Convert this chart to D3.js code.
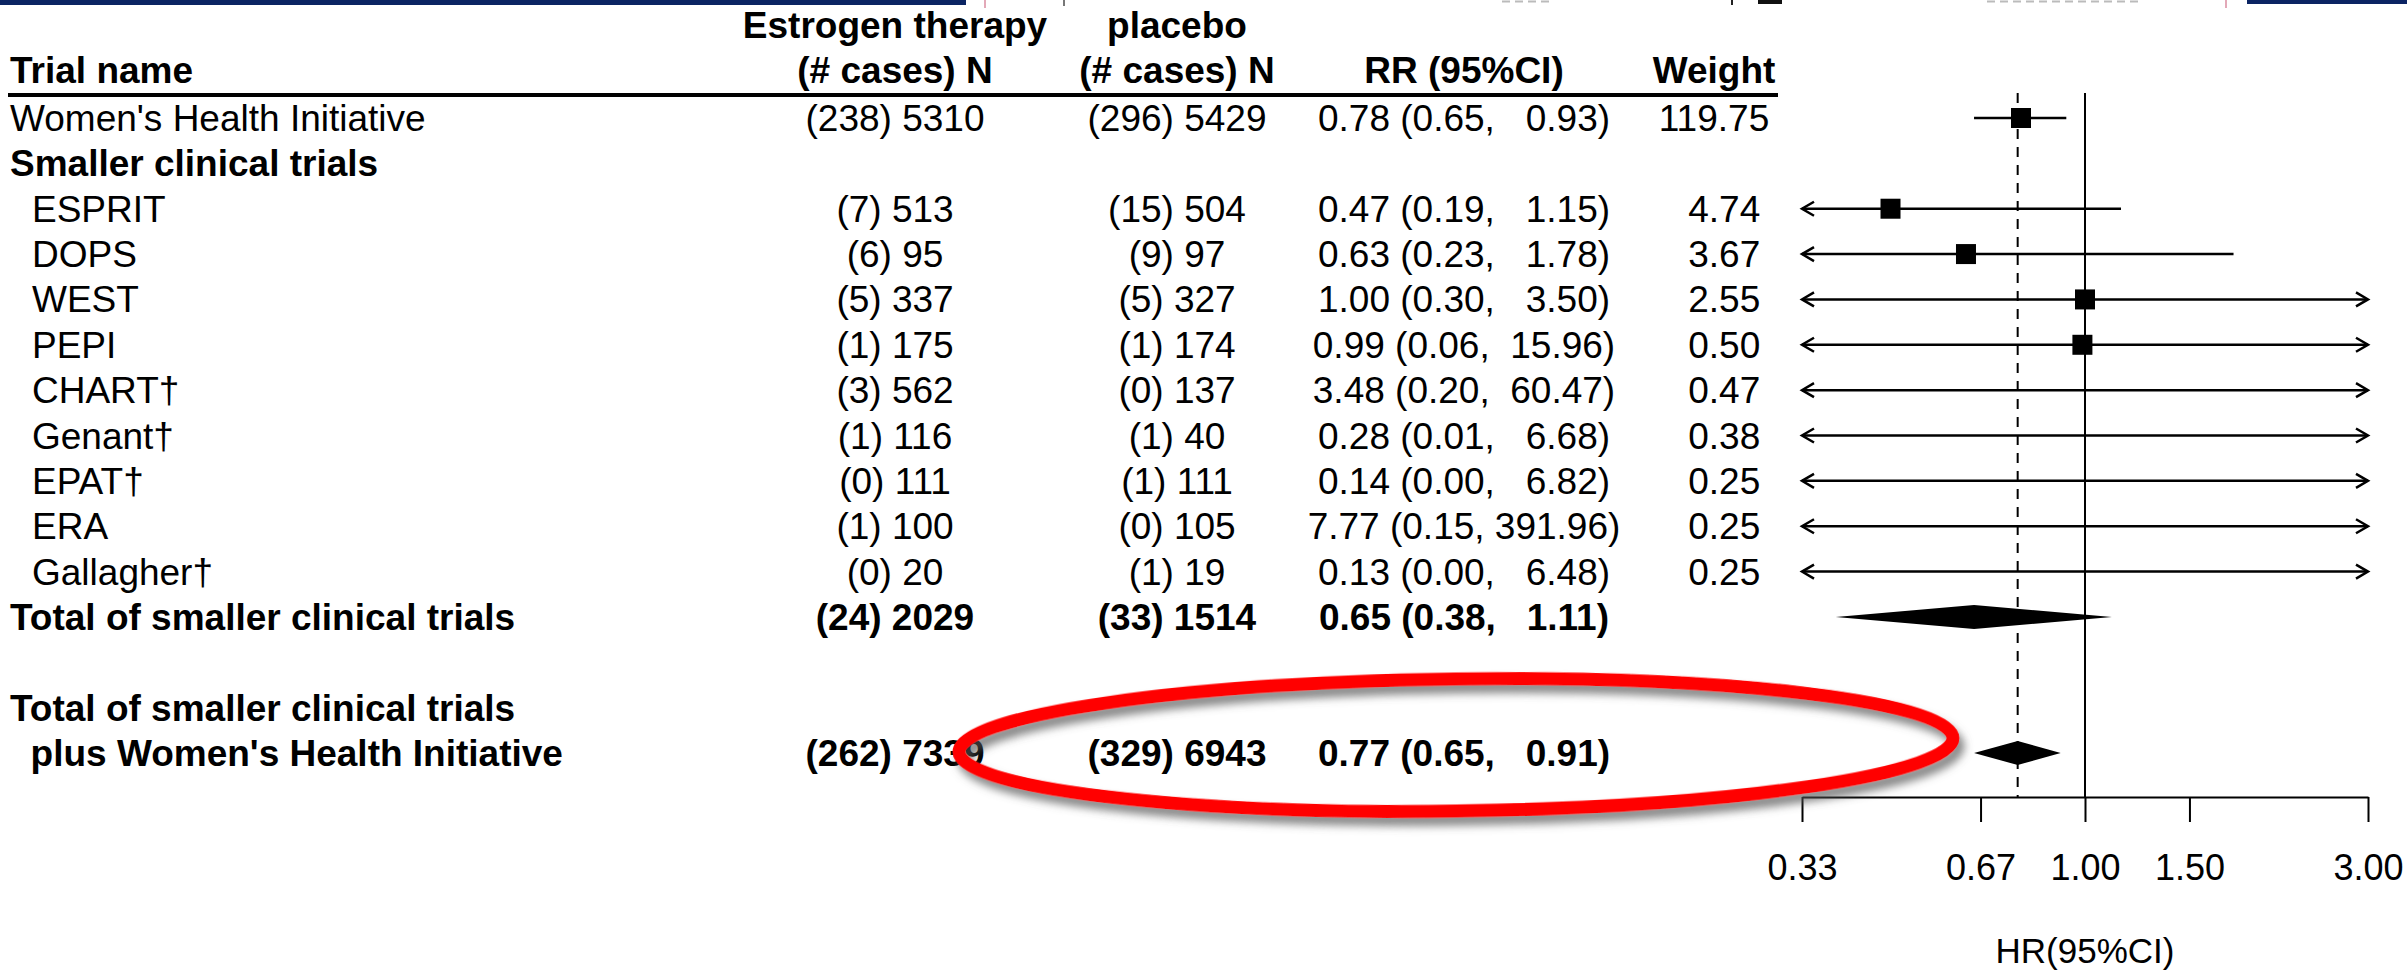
<!DOCTYPE html>
<html>
<head>
<meta charset="utf-8">
<script src="https://cdn.jsdelivr.net/npm/d3@7"></script>
<style>
  body { margin: 0; background: #fff; }
  svg text { font-family: "Liberation Sans", Arial, sans-serif; fill: #000; white-space: pre; }
</style>
</head>
<body>
<svg width="2407" height="973"></svg>
<script>
// single studies (WHI first, then the smaller trials)
const studyNames = ["Women's Health Initiative", "ESPRIT", "DOPS", "WEST", "PEPI", "CHART†", "Genant†", "EPAT†", "ERA", "Gallagher†"];
const estCases = [238, 7, 6, 5, 1, 3, 1, 0, 1, 0];
const estN = [5310, 513, 95, 337, 175, 562, 116, 111, 100, 20];
const plaCases = [296, 15, 9, 5, 1, 0, 1, 1, 0, 1];
const plaN = [5429, 504, 97, 327, 174, 137, 40, 111, 105, 19];
const rr = [0.78, 0.47, 0.63, 1.00, 0.99, 3.48, 0.28, 0.14, 7.77, 0.13];
const rrLow = [0.65, 0.19, 0.23, 0.30, 0.06, 0.20, 0.01, 0.00, 0.15, 0.00];
const rrHigh = [0.93, 1.15, 1.78, 3.50, 15.96, 60.47, 6.68, 6.82, 391.96, 6.48];
const weights = [119.75, 4.74, 3.67, 2.55, 0.50, 0.47, 0.38, 0.25, 0.25, 0.25];

// pooled estimates
const poolNames = [["Total of smaller clinical trials"], ["Total of smaller clinical trials", "  plus Women's Health Initiative"]];
const poolEstCases = [24, 262];
const poolEstN = [2029, 7339];
const poolPlaCases = [33, 329];
const poolPlaN = [1514, 6943];
const poolRR = [0.65, 0.77];
const poolLow = [0.38, 0.65];
const poolHigh = [1.11, 0.91];

// axis
const tickValues = [1 / 3, 2 / 3, 1, 1.5, 3];
const tickLabels = ["0.33", "0.67", "1.00", "1.50", "3.00"];

const svg = d3.select("svg");
const FS = 37;

// top strip left over from the slide above
const strip = svg.append("g");
strip.append("rect").attr("x", 0).attr("y", 0).attr("width", 966).attr("height", 5).attr("fill", "#0b2463");
strip.append("rect").attr("x", 2247).attr("y", 0).attr("width", 160).attr("height", 4).attr("fill", "#0b2463");
[[985, "#e3a9b8", 8], [1064, "#777", 6], [1732, "#222", 5], [2226, "#e3a9b8", 8]].forEach(([x, c, h]) => {
    strip.append("line").attr("x1", x).attr("x2", x).attr("y1", 0).attr("y2", h).attr("stroke", c).attr("stroke-width", 2);
});
strip.append("rect").attr("x", 1758).attr("y", 0).attr("width", 24).attr("height", 4).attr("fill", "#111");
[[1502, 1549], [1987, 2141]].forEach(([a, b]) => {
    strip.append("line").attr("x1", a).attr("x2", b).attr("y1", 1.5).attr("y2", 1.5).attr("stroke", "#bbb").attr("stroke-width", 2).attr("stroke-dasharray", "8,5");
});

// rows
const rowKeys = ["s0", "group", "s1", "s2", "s3", "s4", "s5", "s6", "s7", "s8", "s9", "p0", "gap", "p1a", "p1"];
const y = d3.scalePoint().domain(rowKeys).range([118, 753]);
const base = (k) => y(k) + 13;

const col = { name: 10, indent: 32, est: 895, pla: 1177, rr: 1464, w: 1714 };
const f2 = d3.format(".2f");
const pad = (s, n) => s.padStart(n, " ");
const rrText = (a, b, c) => `${f2(a)} (${f2(b)}, ${pad(f2(c), 6)})`;

// header
const head = svg.append("g").attr("font-weight", "bold").attr("font-size", FS);
head.append("text").attr("x", col.name).attr("y", 83).text("Trial name");
head.append("text").attr("x", col.est).attr("y", 38).attr("text-anchor", "middle").text("Estrogen therapy");
head.append("text").attr("x", col.est).attr("y", 83).attr("text-anchor", "middle").text("(# cases) N");
head.append("text").attr("x", col.pla).attr("y", 38).attr("text-anchor", "middle").text("placebo");
head.append("text").attr("x", col.pla).attr("y", 83).attr("text-anchor", "middle").text("(# cases) N");
head.append("text").attr("x", col.rr).attr("y", 83).attr("text-anchor", "middle").text("RR (95%CI)");
head.append("text").attr("x", col.w).attr("y", 83).attr("text-anchor", "middle").text("Weight");
svg.append("line").attr("x1", 8).attr("x2", 1778).attr("y1", 95).attr("y2", 95)
    .attr("stroke", "#000").attr("stroke-width", 4);

// study text
const studyRows = svg.append("g").attr("font-size", FS)
    .selectAll("g").data(studyNames).join("g")
    .attr("transform", (d, i) => `translate(0,${base("s" + i)})`);
studyRows.append("text").attr("x", (d, i) => i === 0 ? col.name : col.indent).text(d => d);
studyRows.append("text").attr("x", col.est).attr("text-anchor", "middle")
    .text((d, i) => `(${estCases[i]}) ${estN[i]}`);
studyRows.append("text").attr("x", col.pla).attr("text-anchor", "middle")
    .text((d, i) => `(${plaCases[i]}) ${plaN[i]}`);
studyRows.append("text").attr("x", col.rr).attr("text-anchor", "middle")
    .text((d, i) => rrText(rr[i], rrLow[i], rrHigh[i]));
studyRows.append("text").attr("x", col.w).attr("text-anchor", "middle")
    .text((d, i) => pad(f2(weights[i]), 6));

svg.append("text").attr("x", col.name).attr("y", base("group"))
    .attr("font-size", FS).attr("font-weight", "bold").text("Smaller clinical trials");

// pooled text
const poolKeys = ["p0", "p1"];
const poolRows = svg.append("g").attr("font-size", FS).attr("font-weight", "bold")
    .selectAll("g").data(poolNames).join("g")
    .attr("transform", (d, i) => `translate(0,${base(poolKeys[i])})`);
poolRows.each(function (lines) {
    const g = d3.select(this);
    lines.forEach((t, k) => {
        g.append("text").attr("x", col.name).attr("y", (k - lines.length + 1) * (y.step())).text(t);
    });
});
poolRows.append("text").attr("x", col.est).attr("text-anchor", "middle")
    .text((d, i) => `(${poolEstCases[i]}) ${poolEstN[i]}`);
poolRows.append("text").attr("x", col.pla).attr("text-anchor", "middle")
    .text((d, i) => `(${poolPlaCases[i]}) ${poolPlaN[i]}`);
poolRows.append("text").attr("x", col.rr).attr("text-anchor", "middle")
    .text((d, i) => rrText(poolRR[i], poolLow[i], poolHigh[i]));

// forest plot
const x = d3.scaleLog().domain([tickValues[0], tickValues[tickValues.length - 1]]).range([1802, 2368]);
const axisY = 797;
const plot = svg.append("g");

plot.append("line").attr("x1", x(1)).attr("x2", x(1)).attr("y1", 93).attr("y2", axisY)
    .attr("stroke", "#000").attr("stroke-width", 2);
plot.append("line").attr("x1", x(poolRR[1])).attr("x2", x(poolRR[1])).attr("y1", 93).attr("y2", axisY)
    .attr("stroke", "#000").attr("stroke-width", 2).attr("stroke-dasharray", "10,8");

const [dMin, dMax] = x.domain();
const ci = plot.selectAll("g.ci").data(studyNames).join("g").attr("class", "ci")
    .attr("transform", (d, i) => `translate(0,${y("s" + i)})`);
ci.append("line")
    .attr("x1", (d, i) => x(Math.max(rrLow[i], dMin)))
    .attr("x2", (d, i) => x(Math.min(rrHigh[i], dMax)))
    .attr("stroke", "#000").attr("stroke-width", 2.5);
ci.filter((d, i) => rrLow[i] < dMin).append("path")
    .attr("d", `M${x(dMin) + 12},-7L${x(dMin)},0L${x(dMin) + 12},7`)
    .attr("fill", "none").attr("stroke", "#000").attr("stroke-width", 2.5);
ci.filter((d, i) => rrHigh[i] > dMax).append("path")
    .attr("d", `M${x(dMax) - 12},-7L${x(dMax)},0L${x(dMax) - 12},7`)
    .attr("fill", "none").attr("stroke", "#000").attr("stroke-width", 2.5);
ci.filter((d, i) => rr[i] >= dMin && rr[i] <= dMax).append("rect")
    .attr("x", (d, i) => x(rr[studyNames.indexOf(d)]) - 10).attr("y", -10)
    .attr("width", 20).attr("height", 20).attr("fill", "#000");

plot.selectAll("path.diamond").data(poolRR).join("path").attr("class", "diamond")
    .attr("d", (d, i) => {
        const cy = y(poolKeys[i]);
        return `M${x(poolLow[i])},${cy}L${x(d)},${cy - 12}L${x(poolHigh[i])},${cy}L${x(d)},${cy + 12}Z`;
    })
    .attr("fill", "#000");

const axis = plot.append("g").attr("transform", `translate(0,${axisY})`)
    .call(d3.axisBottom(x).tickValues(tickValues).tickFormat((d, i) => tickLabels[i])
        .tickSize(25).tickSizeOuter(0).tickPadding(32));
axis.select(".domain").attr("stroke-width", 2);
axis.selectAll(".tick line").attr("stroke-width", 2);
axis.selectAll(".tick text").attr("font-size", 36).attr("font-family", "Liberation Sans, Arial, sans-serif");

plot.append("text").attr("x", x(1)).attr("y", 963).attr("text-anchor", "middle")
    .attr("font-size", 35).text("HR(95%CI)");

// red highlight ring
const defs = svg.append("defs");
const flt = defs.append("filter").attr("id", "shadow").attr("x", "-10%").attr("y", "-30%").attr("width", "120%").attr("height", "160%");
flt.append("feDropShadow").attr("dx", 5).attr("dy", 8).attr("stdDeviation", 4)
    .attr("flood-color", "#555").attr("flood-opacity", 0.7);
svg.append("ellipse").attr("cx", 1456).attr("cy", 745).attr("rx", 497).attr("ry", 66)
    .attr("transform", "rotate(-0.8 1456 745)")
    .attr("fill", "none").attr("stroke", "#ff0000").attr("stroke-width", 13)
    .attr("filter", "url(#shadow)");
</script>
</body>
</html>
